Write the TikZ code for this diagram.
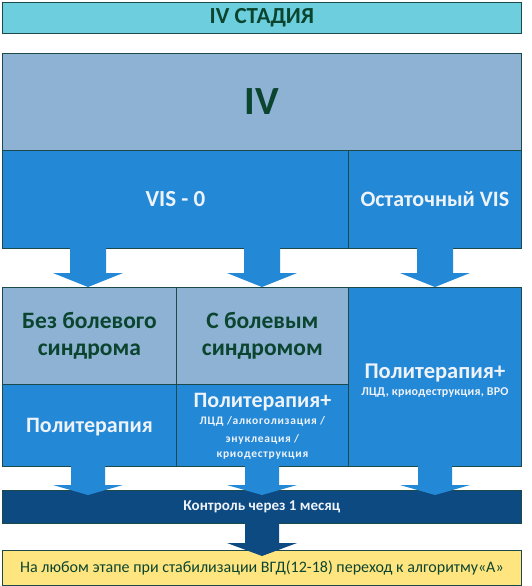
\documentclass[tikz,border=0pt]{standalone}
\usepackage{fontspec}
\setmainfont{Carlito}
\definecolor{cyanbar}{HTML}{6DCFDE}
\definecolor{grayblue}{HTML}{8DB2D3}
\definecolor{midblue}{HTML}{2388D6}
\definecolor{navy}{HTML}{0D4A82}
\definecolor{yel}{HTML}{FFE57F}
\definecolor{edge}{HTML}{1C4A4A}
\definecolor{dgreen}{HTML}{0B4530}
\definecolor{wtxt}{HTML}{EEF3FA}
\newcommand{\fs}[2]{\fontsize{#1}{#2}\selectfont}
\tikzset{
  box/.style={draw=edge, line width=0.8pt, rectangle, inner sep=0pt, anchor=north west, align=center},
  dark/.style={text=dgreen, font=\bfseries},
  light/.style={text=wtxt, font=\bfseries},
  barrow/.style={fill=midblue, draw=none},
  narrow/.style={fill=navy, draw=none}
}
\begin{document}
\begin{tikzpicture}[x=1pt, y=-1pt]
\useasboundingbox (0,0) rectangle (532,586);
% boxes
\node[box, fill=cyanbar, minimum width=519pt, minimum height=31pt] (title) at (2,2) {};
\node[dark] at (title.center) {\fs{23}{28}IV СТАДИЯ};
\node[box, fill=grayblue, minimum width=519pt, minimum height=97pt] (iv) at (2,53) {};
\node[dark] at (iv.center) {\fs{40}{46}IV};
\node[box, fill=midblue, minimum width=346pt, minimum height=98pt] (vis) at (2,150) {};
\node[light] at (vis.center) {\fs{23}{28}VIS - 0};
\node[box, fill=midblue, minimum width=173pt, minimum height=98pt] (ost) at (348,150) {};
\node[light] at (ost.center) {\fs{22}{28}Остаточный VIS};
\node[box, fill=grayblue, minimum width=174pt, minimum height=97pt] (bez) at (2,287) {};
\node[text=dgreen, font=\bfseries\fs{23.5}{27}, align=center] at (bez.center) {Без болевого\\синдрома};
\node[box, fill=grayblue, minimum width=172pt, minimum height=97pt] (sbol) at (176,287) {};
\node[text=dgreen, font=\bfseries\fs{23.5}{27}, align=center] at (sbol.center) {С болевым\\синдромом};
\node[box, fill=midblue, minimum width=174pt, minimum height=82pt] (p1) at (2,384) {};
\node[light] at ([yshift=-2pt]p1.center) {\fs{22}{28}Политерапия};
\node[box, fill=midblue, minimum width=172pt, minimum height=82pt] (p2) at (176,384) {};
\node[text=wtxt, font=\bfseries\fs{11.5}{18}\addfontfeature{LetterSpace=6.5}, align=center] at ([yshift=-1pt]p2.center) {{\fs{22}{24}\addfontfeature{LetterSpace=0}Политерапия+}\\[-1pt]ЛЦД /алкоголизация /\\энуклеация /\\[-3pt]криодеструкция};
\node[box, fill=midblue, minimum width=173pt, minimum height=179pt] (p3) at (348,287) {};
\node[text=wtxt, font=\bfseries\fs{12}{16}\addfontfeature{LetterSpace=2}, align=center] at ([yshift=-4pt]p3.center) {{\fs{22.5}{26}\addfontfeature{LetterSpace=0}Политерапия+}\\[1pt]ЛЦД, криодеструкция, ВРО};
\node[box, fill=navy, minimum width=519pt, minimum height=33pt] (ctrl) at (2,490) {};
\node[light] at (ctrl.center) {\fs{15}{18}Контроль через 1 месяц};
\node[box, fill=yel, minimum width=519pt, minimum height=35pt] (fin) at (2,550) {};
\node[text=dgreen] at (fin.center) {\fs{16}{18}На любом этапе при стабилизации ВГД(12-18) переход к алгоритму«А»};
% block arrows
\foreach \cx in {88,262,435}{
  \fill[barrow] (\cx-18,248) -- (\cx+18,248) -- (\cx+18,273) -- (\cx+35,273) -- (\cx,287) -- (\cx-35,273) -- (\cx-18,273) -- cycle;
  \fill[barrow] (\cx-17,466) -- (\cx+17,466) -- (\cx+17,485) -- (\cx+35,485) -- (\cx,495) -- (\cx-35,485) -- (\cx-17,485) -- cycle;
}
\fill[narrow] (245,523) -- (279,523) -- (279,543) -- (297,543) -- (262,556) -- (227,543) -- (245,543) -- cycle;
\end{tikzpicture}
\end{document}
